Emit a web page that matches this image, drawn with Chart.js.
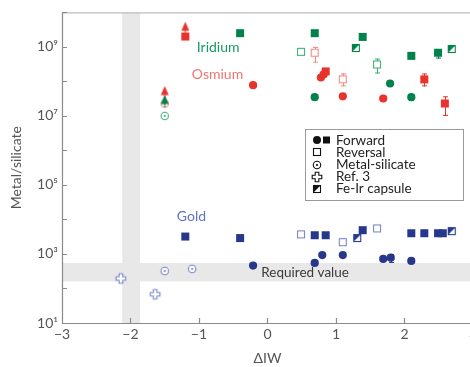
<!DOCTYPE html>
<html>
<head>
<meta charset="utf-8">
<style>
  html, body { margin: 0; padding: 0; background: #fff; overflow: hidden; }
  #wrap { width: 480px; height: 367px; }
</style>
<script src="https://cdn.jsdelivr.net/npm/chart.js@4.4.1/dist/chart.umd.min.js"></script>
</head>
<body>
<div id="wrap"><canvas id="c" width="480" height="367"></canvas></div>
<script>
// ---- axis ticks ----
const xTickValues = [-3, -2, -1, 0, 1, 2, 3];
const yTickValues = [1e1, 1e2, 1e3, 1e4, 1e5, 1e6, 1e7, 1e8, 1e9, 1e10];
const yLabelText = {1e1: '10¹', 1e3: '10³', 1e5: '10⁵', 1e7: '10⁷', 1e9: '10⁹'};

// ---- shaded ranges ----
const ivBand = [-2.12, -1.86];       // ΔIW range (vertical band)
const requiredBand = [160, 550];     // required metal/silicate ratio (horizontal band)

// ---- Iridium ----
const irForwardCircles = [{x: 0.69, y: 3.5e7}, {x: 1.79, y: 8.7e7}, {x: 2.10, y: 3.5e7, lo: 2.7e7, hi: 3.5e7}];
const irForwardSquares = [{x: -0.40, y: 2.5e9}, {x: 0.69, y: 2.5e9}, {x: 1.39, y: 1.95e9},
                          {x: 2.10, y: 5.5e8}, {x: 2.49, y: 6.8e8, lo: 4.6e8, hi: 6.8e8}];
const irReversal = [{x: 0.49, y: 7.2e8}, {x: 1.60, y: 3.1e8, lo: 1.7e8, hi: 4.6e8}];
const irMetalSilicate = [{x: -1.50, y: 1.0e7}];
const irFeIr = [{x: 1.29, y: 9.3e8}, {x: 2.69, y: 8.7e8}];
const irLowerLimit = [{x: -1.50, y: 2.8e7}];

// ---- Osmium ----
const osForwardCircles = [{x: -0.21, y: 7.8e7}, {x: 0.78, y: 1.3e8}, {x: 0.82, y: 1.6e8},
                          {x: 1.10, y: 3.7e7}, {x: 1.69, y: 3.2e7}];
const osForwardSquares = [{x: -1.20, y: 2.0e9}, {x: 0.85, y: 1.95e8},
                          {x: 2.29, y: 1.15e8, lo: 7.2e7, hi: 1.7e8}, {x: 2.59, y: 2.3e7, lo: 1.0e7, hi: 3.7e7}];
const osReversal = [{x: 0.69, y: 6.8e8, lo: 3.5e8, hi: 1.0e9}, {x: 1.10, y: 1.15e8, lo: 7.2e7, hi: 1.7e8}];
const osMetalSilicate = [{x: -1.50, y: 2.3e7}];
const osLowerLimit = [{x: -1.50, y: 5.1e7}, {x: -1.20, y: 3.7e9}];

// ---- Gold ----
const auForwardCircles = [{x: -0.21, y: 460}, {x: 0.69, y: 550}, {x: 0.80, y: 930}, {x: 1.10, y: 930},
                          {x: 1.69, y: 720}, {x: 1.80, y: 780, lo: 550, hi: 1000}, {x: 2.10, y: 630}];
const auForwardSquares = [{x: -1.20, y: 3200}, {x: -0.40, y: 2900}, {x: 0.69, y: 3500}, {x: 0.85, y: 3500},
                          {x: 1.39, y: 4900}, {x: 2.10, y: 4000}, {x: 2.29, y: 4000, lo: 3200, hi: 5000},
                          {x: 2.49, y: 4000}, {x: 2.56, y: 4000}];
const auReversal = [{x: 0.49, y: 3700}, {x: 1.10, y: 2200}, {x: 1.60, y: 5500}];
const auMetalSilicate = [{x: -1.50, y: 320}, {x: -1.10, y: 370}];
const auRef3 = [{x: -2.14, y: 195}, {x: -1.64, y: 68}];
const auFeIr = [{x: 1.31, y: 2900}, {x: 2.69, y: 4600}];

// ---- text placed in data space ----
const elementLabels = [
  {text: 'Iridium', x: -0.72, y: 9.5e8, color: '#179a66'},
  {text: 'Osmium', x: -0.73, y: 1.55e8, color: '#f07370'},
  {text: 'Gold', x: -1.11, y: 1.25e4, color: '#6373c2'}
];
const legendItems = ['Forward', 'Reversal', 'Metal-silicate', 'Ref. 3', 'Fe-Ir capsule'];

const FONT = "Lato, 'Noto Sans', sans-serif";
const IR = '#00824a', IR_L = '#3fae7c';
const OS = '#e8322b', OS_L = '#f08b86';
const AU = '#27388c', AU_L = '#7885ca';

// marker glyphs drawn to small canvases
function marker(kind, col) {
  const c = document.createElement('canvas');
  c.width = 16; c.height = 16;
  const g = c.getContext('2d');
  g.lineWidth = 1.1;
  g.strokeStyle = col; g.fillStyle = col;
  if (kind === 'square') {
    g.fillRect(4, 4, 8, 8);
  } else if (kind === 'open') {
    g.fillStyle = '#fff'; g.fillRect(4, 4, 8, 8);
    g.strokeRect(4.5, 4.5, 7, 7);
  } else if (kind === 'feir') {
    g.fillStyle = '#fff'; g.fillRect(4, 4, 8, 8);
    g.fillStyle = col;
    g.beginPath(); g.moveTo(4, 4); g.lineTo(12, 4); g.lineTo(4, 12); g.closePath(); g.fill();
    g.strokeRect(4.5, 4.5, 7, 7);
  } else if (kind === 'ms') {
    g.fillStyle = '#fff';
    g.beginPath(); g.arc(8, 8, 3.7, 0, Math.PI * 2); g.fill(); g.stroke();
    g.fillStyle = col;
    g.beginPath(); g.arc(8, 8, 1.1, 0, Math.PI * 2); g.fill();
  } else if (kind === 'plus') {
    const p = [[-1.8,-4.8],[1.8,-4.8],[1.8,-1.8],[4.8,-1.8],[4.8,1.8],[1.8,1.8],[1.8,4.8],[-1.8,4.8],[-1.8,1.8],[-4.8,1.8],[-4.8,-1.8],[-1.8,-1.8]];
    g.fillStyle = '#fff';
    g.beginPath();
    p.forEach(([a, b], i) => i ? g.lineTo(8 + a, 8 + b) : g.moveTo(8 + a, 8 + b));
    g.closePath(); g.fill(); g.stroke();
  } else if (kind === 'tri') {
    g.beginPath(); g.moveTo(8, 2.5); g.lineTo(12, 11.5); g.lineTo(4, 11.5); g.closePath(); g.fill();
    g.fillRect(7.5, 11, 1, 4);
  }
  return c;
}

function series(label, data, style, color, errColor) {
  return {
    label, data,
    pointStyle: style,
    pointRadius: 4.1, pointHoverRadius: 4.1,
    backgroundColor: color, borderColor: color, borderWidth: 0,
    errColor: errColor || color
  };
}

const datasets = [
  series('Ir lower limit', irLowerLimit, marker('tri', IR), IR),
  series('Ir metal-silicate', irMetalSilicate, marker('ms', IR_L), IR_L),
  series('Os lower limit', osLowerLimit, marker('tri', OS), OS),
  series('Os metal-silicate', osMetalSilicate, marker('ms', OS_L), OS_L),
  series('Ir forward', irForwardCircles, 'circle', IR),
  series('Ir forward', irForwardSquares, marker('square', IR), IR),
  series('Ir reversal', irReversal, marker('open', IR_L), IR_L),
  series('Ir Fe-Ir capsule', irFeIr, marker('feir', IR), IR),
  series('Os forward', osForwardCircles, 'circle', OS),
  series('Os forward', osForwardSquares, marker('square', OS), OS),
  series('Os reversal', osReversal, marker('open', OS_L), OS_L),
  series('Au forward', auForwardCircles, 'circle', AU),
  series('Au forward', auForwardSquares, marker('square', AU), AU),
  series('Au reversal', auReversal, marker('open', AU_L), AU_L),
  series('Au metal-silicate', auMetalSilicate, marker('ms', AU_L), AU_L),
  series('Au Ref. 3', auRef3, marker('plus', AU_L), AU_L),
  series('Au Fe-Ir capsule', auFeIr, marker('feir', AU), AU)
];

// shaded bands, frame, inward tick marks and error bars (under the markers)
const backdrop = {
  id: 'backdrop',
  beforeDatasetsDraw(chart) {
    const {ctx, chartArea: a, scales: {x, y}} = chart;
    ctx.save();
    ctx.fillStyle = '#e8e8e8';
    const bx0 = x.getPixelForValue(ivBand[0]), bx1 = x.getPixelForValue(ivBand[1]);
    ctx.fillRect(bx0, a.top, bx1 - bx0, a.bottom - a.top);
    const by0 = y.getPixelForValue(requiredBand[1]), by1 = y.getPixelForValue(requiredBand[0]);
    ctx.fillRect(a.left, by0, a.right - a.left, by1 - by0);

    ctx.strokeStyle = '#bdbdbd'; ctx.lineWidth = 1.2;
    ctx.beginPath(); ctx.moveTo(a.left, a.top + 0.5); ctx.lineTo(a.right, a.top + 0.5);
    ctx.moveTo(a.right - 0.5, a.top); ctx.lineTo(a.right - 0.5, a.bottom); ctx.stroke();
    ctx.strokeStyle = '#8a8a8a';
    ctx.beginPath();
    ctx.moveTo(a.left + 0.5, a.top); ctx.lineTo(a.left + 0.5, a.bottom + 0.5); ctx.lineTo(a.right, a.bottom + 0.5);
    yTickValues.forEach(v => { const p = Math.round(y.getPixelForValue(v)) + 0.5; ctx.moveTo(a.left, p); ctx.lineTo(a.left + 5, p); });
    xTickValues.forEach(v => { const p = Math.round(x.getPixelForValue(v)) + 0.5; ctx.moveTo(p, a.bottom); ctx.lineTo(p, a.bottom - 5); });
    ctx.stroke();

    ctx.lineWidth = 1;
    chart.data.datasets.forEach(ds => {
      ctx.strokeStyle = ds.errColor;
      ds.data.forEach(d => {
        if (d.lo === undefined) return;
        const px = Math.round(x.getPixelForValue(d.x)) + 0.5;
        const p0 = y.getPixelForValue(d.hi), p1 = y.getPixelForValue(d.lo);
        ctx.beginPath();
        ctx.moveTo(px, p0); ctx.lineTo(px, p1);
        if (d.hi > d.y) { ctx.moveTo(px - 2.5, p0 + 0.5); ctx.lineTo(px + 2.5, p0 + 0.5); }
        if (d.lo < d.y) { ctx.moveTo(px - 2.5, p1 - 0.5); ctx.lineTo(px + 2.5, p1 - 0.5); }
        ctx.stroke();
      });
    });
    ctx.restore();
  }
};

// element names, required-value note and the marker key
const notes = {
  id: 'notes',
  afterDatasetsDraw(chart) {
    const {ctx, chartArea: a, scales: {x, y}} = chart;
    ctx.save();
    ctx.textAlign = 'center'; ctx.textBaseline = 'middle';
    ctx.font = '14px ' + FONT;
    elementLabels.forEach(l => {
      ctx.fillStyle = l.color;
      ctx.fillText(l.text, x.getPixelForValue(l.x), y.getPixelForValue(l.y));
    });
    ctx.fillStyle = '#3a3a3a';
    ctx.textAlign = 'left';
    ctx.font = '13.5px ' + FONT;
    ctx.fillText('Required value', x.getPixelForValue(-0.09), y.getPixelForValue(Math.sqrt(requiredBand[0] * requiredBand[1])));

    // key box
    const L = 305, T = 129, W = 158, H = 71;
    ctx.fillStyle = '#fff'; ctx.fillRect(L, T, W, H);
    ctx.strokeStyle = '#9a9a9a'; ctx.lineWidth = 1;
    ctx.strokeRect(L + 0.5, T + 0.5, W, H);
    const rows = [140, 152, 164.5, 176.5, 188.5];
    const k = '#111';
    ctx.fillStyle = '#222';
    ctx.font = '13.5px ' + FONT;
    legendItems.forEach((t, i) => ctx.fillText(t, 336, rows[i] + 0.5));
    ctx.fillStyle = k;
    ctx.beginPath(); ctx.arc(317, rows[0], 4, 0, Math.PI * 2); ctx.fill();
    ctx.fillRect(323, rows[0] - 3.5, 7, 7);
    ['open', 'ms', 'plus', 'feir'].forEach((kind, i) => {
      ctx.drawImage(marker(kind, k), 317 - 8, Math.round(rows[i + 1]) - 8);
    });
    ctx.restore();
  }
};

new Chart(document.getElementById('c'), {
  type: 'scatter',
  data: {datasets},
  options: {
    responsive: false,
    animation: false,
    events: [],
    layout: {padding: {top: 7, right: 7, left: 0, bottom: 0}},
    plugins: {legend: {display: false}, tooltip: {enabled: false}},
    scales: {
      x: {
        type: 'linear', min: -3, max: 3,
        afterBuildTicks: s => { s.ticks = xTickValues.map(v => ({value: v})); },
        afterFit: s => { s.height = 44; },
        grid: {display: false, drawTicks: false},
        border: {display: false},
        ticks: {
          padding: 3, color: '#555', autoSkip: false, maxRotation: 0,
          font: {family: FONT, size: 14},
          callback: v => v < 0 ? '−' + Math.abs(v) : String(v)
        },
        title: {display: true, text: 'ΔIW', color: '#555', font: {family: FONT, size: 14}, padding: {top: 2, bottom: 0}}
      },
      y: {
        type: 'logarithmic', min: 10, max: 1e10,
        afterBuildTicks: s => { s.ticks = yTickValues.map(v => ({value: v})); },
        afterFit: s => { s.width = 62; },
        grid: {display: false, drawTicks: false},
        border: {display: false},
        ticks: {
          padding: 4, color: '#555', autoSkip: false,
          font: {family: FONT, size: 14},
          callback: v => yLabelText[v] || ''
        },
        title: {display: true, text: 'Metal/silicate', color: '#555', font: {family: FONT, size: 14}, padding: {top: 8, bottom: 0}}
      }
    }
  },
  plugins: [backdrop, notes]
});
</script>
</body>
</html>
